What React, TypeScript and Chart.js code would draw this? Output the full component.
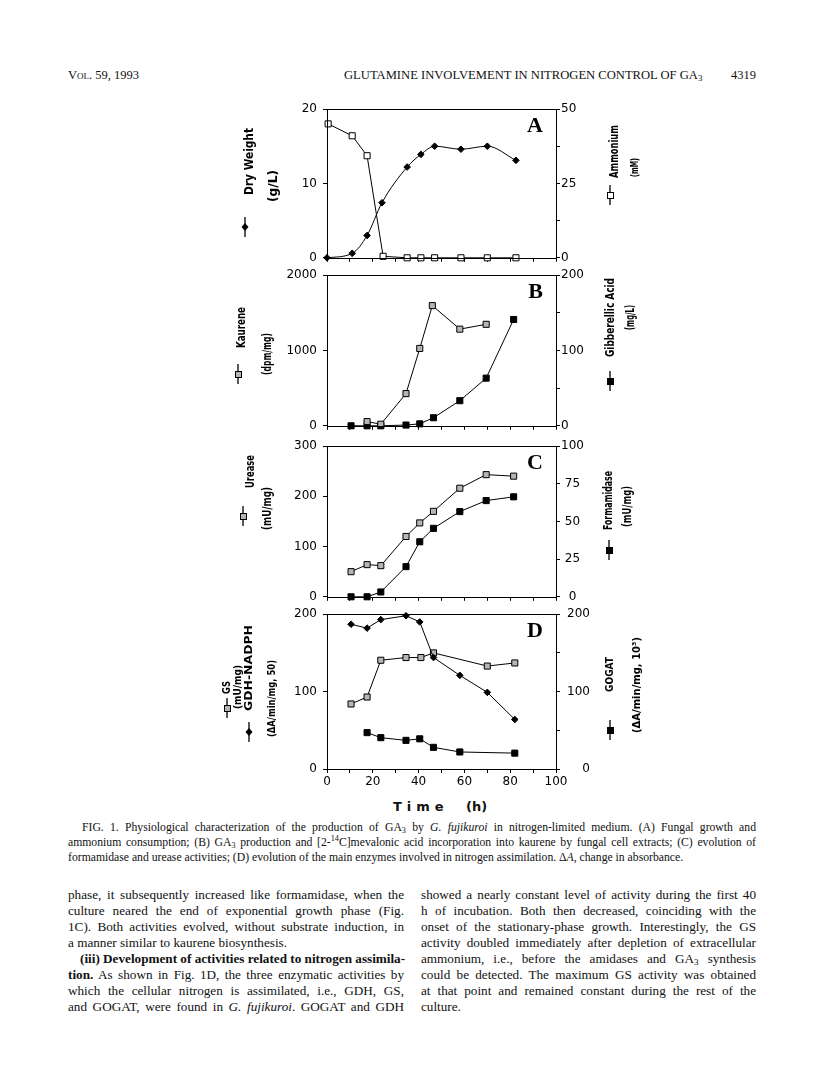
import React, { useEffect, useRef } from "react";
import { Chart, registerables } from "chart.js";
Chart.register(...registerables);

// ---------------- DATA ----------------
// Panel A
const dwTime = [0, 11, 17.5, 24, 35, 41, 47, 58.5, 70, 82.5];
const dryWeight = [0, 0.6, 3.0, 7.4, 12.2, 13.9, 15.0, 14.6, 15.0, 13.1];
const nh4Time = [0.5, 11, 17.5, 24.5, 35, 41, 47, 58.5, 70, 82.5];
const ammonium = [45, 41, 34.3, 0.5, 0, 0, 0, 0, 0, 0];
// Panel B
const kaurTime = [17.5, 23.5, 34.5, 40.5, 46, 58, 69.5];
const kaurene = [56, 21, 427, 1026, 1594, 1282, 1346];
const gaTime = [10.5, 17.5, 23.5, 34.5, 40.5, 46.5, 58, 69.5, 81.5];
const gibberellic = [0, 0, 0, 1, 2.6, 10.7, 33.3, 63.2, 141];
// Panel C
const ureTime = [10.5, 17.5, 23.5, 34.5, 40.5, 46.5, 58, 69.5, 81.5];
const urease = [50, 64, 62, 120, 147, 170, 216, 243, 240];
const formTime = [10.5, 17.5, 23.5, 34.5, 40.5, 46.5, 58, 69.5, 81.5];
const formamidase = [0, 0, 3.2, 20, 36.5, 45.4, 56.5, 63.8, 66.3];
// Panel D
const gsTime = [10.5, 17.5, 23.5, 34.5, 41, 46.5, 70, 82];
const gs = [84, 93, 140.5, 144, 144, 150, 133, 137];
const gdhTime = [10.5, 17.5, 23.5, 34.5, 40.5, 46.5, 58, 70, 82];
const gdh = [187, 182, 193, 198, 190, 144, 121, 99, 64];
const gogatTime = [17.5, 23.5, 34.5, 40.5, 46.5, 58, 82];
const gogat = [47, 40.5, 37, 39, 28, 22, 20.5];

// tick settings: [min, max, step]
const xTicks = { min: 0, max: 100, step: 10, labelEvery: 20 };
const yA = { left: [0, 20, 10], right: [0, 50, 12.5] };
const yB = { left: [0, 2000, 1000], right: [0, 200, 50] };
const yC = { left: [0, 300, 100], right: [0, 100, 25] };
const yD = { left: [0, 200, 100], right: [0, 200, 50] };

// ---------------- LAYOUT ----------------
const CANVAS_LEFT = 170;
const CANVAS_W = 520;
const LEFT_W = 157;
const RIGHT_W = 134;
const PAD_TOP = 14;
const titleFont = (px: number) => `bold ${px}px "DejaVu Sans Condensed", "DejaVu Sans", sans-serif`;
const TICK_FONT = { family: '"DejaVu Sans", sans-serif', size: 12 };

type Sym = "diamond" | "open" | "gray" | "filled";

const pts = (xs: number[], ys: number[]) => xs.map((x, i) => ({ x, y: ys[i] }));

const series = (xs: number[], ys: number[], axis: string, kind: Sym, smooth = false) => ({
  data: pts(xs, ys),
  yAxisID: axis,
  showLine: true,
  borderColor: "#000",
  borderWidth: 1,
  pointStyle: kind === "diamond" ? "rectRot" : "rect",
  pointRadius: kind === "diamond" ? 3.3 : 4.3,
  pointBackgroundColor: kind === "open" ? "#fff" : kind === "gray" ? "#b5b5b5" : "#000",
  pointBorderColor: "#000",
  pointBorderWidth: 1,
  tension: smooth ? 0.35 : 0,
  cubicInterpolationMode: smooth ? "monotone" : "default",
  clip: false,
});

function drawSym(ctx: CanvasRenderingContext2D, kind: Sym, x: number, y: number) {
  ctx.save();
  ctx.strokeStyle = "#000";
  ctx.lineWidth = 1.3;
  ctx.beginPath();
  ctx.moveTo(x, y - 10);
  ctx.lineTo(x, y + 10);
  ctx.stroke();
  ctx.lineWidth = 1;
  if (kind === "diamond") {
    ctx.fillStyle = "#000";
    ctx.beginPath();
    ctx.moveTo(x, y - 4);
    ctx.lineTo(x + 3.5, y);
    ctx.lineTo(x, y + 4);
    ctx.lineTo(x - 3.5, y);
    ctx.closePath();
    ctx.fill();
  } else {
    ctx.fillStyle = kind === "open" ? "#fff" : kind === "gray" ? "#b5b5b5" : "#000";
    ctx.fillRect(x - 3, y - 3, 6, 6);
    ctx.strokeRect(x - 3 + 0.5, y - 3 + 0.5, 6, 6);
  }
  ctx.restore();
}

interface TitleLine { text: string; x: number; y0: number; y1: number; size?: number; }
interface SymSpec { kind: Sym; x: number; y: number; }
interface PanelSpec {
  top: number; height: number; xh: number; letter: string; showX: boolean;
  datasets: any[];
  left: number[]; right: number[];
  leftLabel: (v: number) => string; rightLabel: (v: number) => string;
  rightAlign: "near" | "center"; rightPad: number;
  titles: TitleLine[]; syms: SymSpec[];
}

const every = (n: number) => (v: number) => (Math.abs(v % n) < 1e-9 ? String(v) : "");

const panels: PanelSpec[] = [
  {
    top: 95, height: 176, xh: 8, letter: "A", showX: false,
    datasets: [
      series(dwTime, dryWeight, "yL", "diamond", true),
      series(nh4Time, ammonium, "yR", "open"),
    ],
    left: yA.left, right: yA.right,
    leftLabel: every(10), rightLabel: every(25), rightAlign: "near", rightPad: 1,
    titles: [
      { text: "Dry Weight", x: 250, y0: 195, y1: 128 },
      { text: "(g/L)", x: 274, y0: 202, y1: 170 },
      { text: "Ammonium", x: 615, y0: 178, y1: 125 },
      { text: "(mM)", x: 635, y0: 177, y1: 158, size: 10.5 },
    ],
    syms: [
      { kind: "diamond", x: 245, y: 227 },
      { kind: "open", x: 610, y: 195 },
    ],
  },
  {
    top: 261, height: 178, xh: 8, letter: "B", showX: false,
    datasets: [
      series(kaurTime, kaurene, "yL", "gray"),
      series(gaTime, gibberellic, "yR", "filled"),
    ],
    left: yB.left, right: yB.right,
    leftLabel: every(1000), rightLabel: every(100), rightAlign: "near", rightPad: 1,
    titles: [
      { text: "Kaurene", x: 242, y0: 348, y1: 307 },
      { text: "(dpm/mg)", x: 268, y0: 375, y1: 333 },
      { text: "Gibberellic Acid", x: 611, y0: 357, y1: 278 },
      { text: "(mg/L)", x: 631, y0: 330, y1: 305 },
    ],
    syms: [
      { kind: "gray", x: 238, y: 374 },
      { kind: "filled", x: 610, y: 381 },
    ],
  },
  {
    top: 432, height: 178, xh: 8, letter: "C", showX: false,
    datasets: [
      series(ureTime, urease, "yL", "gray"),
      series(formTime, formamidase, "yR", "filled"),
    ],
    left: yC.left, right: yC.right,
    leftLabel: every(100), rightLabel: every(25), rightAlign: "center", rightPad: 1,
    titles: [
      { text: "Urease", x: 251, y0: 488, y1: 455 },
      { text: "(mU/mg)", x: 268, y0: 530, y1: 487 },
      { text: "Formamidase", x: 609, y0: 530, y1: 471 },
      { text: "(mU/mg)", x: 628, y0: 527, y1: 486 },
    ],
    syms: [
      { kind: "gray", x: 243, y: 516 },
      { kind: "filled", x: 609, y: 550 },
    ],
  },
  {
    top: 600, height: 193, xh: 24, letter: "D", showX: true,
    datasets: [
      series(gdhTime, gdh, "yL", "diamond"),
      series(gsTime, gs, "yL", "gray"),
      series(gogatTime, gogat, "yR", "filled"),
    ],
    left: yD.left, right: yD.right,
    leftLabel: every(100),
    rightLabel: (v: number) => (v % 100 === 0 ? String(v).padStart(3, "\u2007") : ""),
    rightAlign: "near", rightPad: 7,
    titles: [
      { text: "GS", x: 227, y0: 694, y1: 681, size: 10 },
      { text: "(mU/mg)", x: 238, y0: 709, y1: 665, size: 10 },
      { text: "GDH-NADPH", x: 249, y0: 711, y1: 625, size: 10.5 },
      { text: "(\u0394A/min/mg, 50)", x: 272, y0: 737, y1: 660, size: 10.5 },
      { text: "GOGAT", x: 610, y0: 692, y1: 657, size: 10.5 },
      { text: "(\u0394A/min/mg, 10\u00B3)", x: 637, y0: 733, y1: 637, size: 10.5 },
    ],
    syms: [
      { kind: "gray", x: 227, y: 708 },
      { kind: "diamond", x: 249, y: 732 },
      { kind: "filled", x: 610, y: 730 },
    ],
  },
];

function Panel({ spec }: { spec: PanelSpec }) {
  const ref = useRef<HTMLCanvasElement>(null);
  useEffect(() => {
    const canvas = ref.current!;
    const deco = {
      id: "deco",
      afterDraw(chart: any) {
        const ctx: CanvasRenderingContext2D = chart.ctx;
        const a = chart.chartArea;
        ctx.save();
        ctx.strokeStyle = "#000";
        ctx.lineWidth = 1;
        ctx.strokeRect(Math.round(a.left) + 0.5, Math.round(a.top) + 0.5,
          Math.round(a.right - a.left), Math.round(a.bottom - a.top));
        ctx.fillStyle = "#000";
        ctx.font = 'bold 22px "Liberation Serif", "Times New Roman", serif';
        ctx.textAlign = "right";
        ctx.textBaseline = "alphabetic";
        ctx.fillText(spec.letter, a.right - 13, a.top + 23);
        ctx.textAlign = "left";
        ctx.textBaseline = "middle";
        for (const t of spec.titles) {
          ctx.font = titleFont(t.size || 12);
          const w = ctx.measureText(t.text).width;
          const L = t.y0 - t.y1;
          ctx.save();
          ctx.translate(t.x - CANVAS_LEFT, t.y0 - spec.top);
          ctx.rotate(-Math.PI / 2);
          ctx.scale(L / w, 1);
          ctx.fillText(t.text, 0, 0);
          ctx.restore();
        }
        for (const s of spec.syms) drawSym(ctx, s.kind, s.x - CANVAS_LEFT, s.y - spec.top);
        ctx.restore();
      },
    };
    const gridOpts = { drawOnChartArea: false, drawTicks: true, tickLength: 4, color: "#000", tickWidth: 1 };
    const chart = new Chart(canvas, {
      type: "scatter",
      data: { datasets: spec.datasets as any },
      options: {
        animation: false,
        responsive: false,
        maintainAspectRatio: false,
        devicePixelRatio: 1,
        layout: { padding: { top: PAD_TOP, left: 0, right: 0, bottom: 0 } },
        plugins: { legend: { display: false }, tooltip: { enabled: false } },
        events: [],
        scales: {
          x: {
            type: "linear",
            min: xTicks.min, max: xTicks.max,
            ticks: {
              stepSize: xTicks.step, autoSkip: false, maxRotation: 0,
              display: spec.showX, padding: 2, color: "#000", font: TICK_FONT,
              callback: (v: any) => every(xTicks.labelEvery)(Number(v)),
            },
            grid: gridOpts,
            border: { display: false },
            afterFit: (s: any) => { s.height = spec.xh; },
          },
          yL: {
            type: "linear", position: "left",
            min: spec.left[0], max: spec.left[1],
            ticks: {
              stepSize: spec.left[2], autoSkip: false, padding: 6, color: "#000", font: TICK_FONT,
              callback: (v: any) => spec.leftLabel(Number(v)),
            },
            grid: gridOpts,
            border: { display: false },
            afterFit: (s: any) => { s.width = LEFT_W; },
          },
          yR: {
            type: "linear", position: "right",
            min: spec.right[0], max: spec.right[1],
            ticks: {
              stepSize: spec.right[2], autoSkip: false, padding: spec.rightPad, color: "#000", font: TICK_FONT,
              crossAlign: spec.rightAlign,
              callback: (v: any) => spec.rightLabel(Number(v)),
            },
            grid: gridOpts,
            border: { display: false },
            afterFit: (s: any) => { s.width = RIGHT_W; },
          },
        },
      } as any,
      plugins: [deco],
    });
    return () => chart.destroy();
  }, [spec]);
  return (
    <canvas
      ref={ref}
      width={CANVAS_W}
      height={spec.height}
      style={{ position: "absolute", left: CANVAS_LEFT, top: spec.top, width: CANVAS_W, height: spec.height }}
    />
  );
}

const serif = '"Liberation Serif", "Times New Roman", serif';

function Line({ children, left, top, width, last, indent, size, lh }: any) {
  return (
    <div
      style={{
        position: "absolute", left: left + (indent || 0), top, width: width - (indent || 0),
        fontFamily: serif, fontSize: size, lineHeight: `${lh || 16}px`, whiteSpace: "nowrap",
        textAlign: "justify", textAlignLast: last ? "left" : "justify", color: "#111",
      } as any}
    >
      {children}
    </div>
  );
}

const TXT_L = 68;
const TXT_R = 756;
const COL_W = 336;
const COL2_L = 421;
const BODY = 13.2;
const CAP = 11.7;

export default function App() {
  const capW = TXT_R - TXT_L;
  const capTop = [820, 835, 850];
  const bodyTop = [887, 903, 919, 935, 951, 967, 983, 999];
  const sub3 = <sub style={{ fontSize: "0.7em", verticalAlign: "-0.25em", lineHeight: 0 }}>3</sub>;
  return (
    <div style={{ position: "absolute", left: 0, top: 0, width: 816, height: 1078, background: "#fff", color: "#111" }}>
      {/* header */}
      <div style={{ position: "absolute", left: TXT_L, top: 68, fontFamily: serif, fontSize: 12.5, fontVariant: "small-caps" }}>
        Vol. 59, 1993
      </div>
      <div style={{ position: "absolute", left: 344, top: 68, fontFamily: serif, fontSize: 12.6, whiteSpace: "nowrap" }}>
        GLUTAMINE INVOLVEMENT IN NITROGEN CONTROL OF GA{sub3}
      </div>
      <div style={{ position: "absolute", right: 816 - TXT_R, top: 68, fontFamily: serif, fontSize: 12.5 }}>
        4319
      </div>

      {panels.map((p) => <Panel key={p.letter} spec={p} />)}

      {/* x-axis title */}
      <div style={{ position: "absolute", left: 393, top: 799, fontFamily: '"DejaVu Sans", sans-serif', fontWeight: "bold", fontSize: 13, letterSpacing: 5, whiteSpace: "pre" }}>
        Time
      </div>
      <div style={{ position: "absolute", left: 466, top: 799, fontFamily: '"DejaVu Sans", sans-serif', fontWeight: "bold", fontSize: 13, whiteSpace: "pre" }}>
        (h)
      </div>

      {/* caption */}
      <Line left={TXT_L} top={capTop[0]} width={capW} indent={14} size={CAP} lh={15}>
        FIG. 1. Physiological characterization of the production of GA{sub3} by <i>G. fujikuroi</i> in nitrogen-limited medium. (A) Fungal growth and
      </Line>
      <Line left={TXT_L} top={capTop[1]} width={capW} size={CAP} lh={15}>
        ammonium consumption; (B) GA{sub3} production and [2-<sup style={{ fontSize: "0.7em", lineHeight: 0 }}>14</sup>C]mevalonic acid incorporation into kaurene by fungal cell extracts; (C) evolution of
      </Line>
      <Line left={TXT_L} top={capTop[2]} width={capW} size={CAP} lh={15} last>
        formamidase and urease activities; (D) evolution of the main enzymes involved in nitrogen assimilation. Δ<i>A</i>, change in absorbance.
      </Line>

      {/* body left column */}
      <Line left={TXT_L} top={bodyTop[0]} width={COL_W} size={BODY}>phase, it subsequently increased like formamidase, when the</Line>
      <Line left={TXT_L} top={bodyTop[1]} width={COL_W} size={BODY}>culture neared the end of exponential growth phase (Fig.</Line>
      <Line left={TXT_L} top={bodyTop[2]} width={COL_W} size={BODY}>1C). Both activities evolved, without substrate induction, in</Line>
      <Line left={TXT_L} top={bodyTop[3]} width={COL_W} size={BODY} last>a manner similar to kaurene biosynthesis.</Line>
      <Line left={TXT_L} top={bodyTop[4]} width={COL_W} size={BODY} indent={12}><b>(iii) Development of activities related to nitrogen assimila-</b></Line>
      <Line left={TXT_L} top={bodyTop[5]} width={COL_W} size={BODY}><b>tion.</b> As shown in Fig. 1D, the three enzymatic activities by</Line>
      <Line left={TXT_L} top={bodyTop[6]} width={COL_W} size={BODY}>which the cellular nitrogen is assimilated, i.e., GDH, GS,</Line>
      <Line left={TXT_L} top={bodyTop[7]} width={COL_W} size={BODY}>and GOGAT, were found in <i>G. fujikuroi</i>. GOGAT and GDH</Line>

      {/* body right column */}
      <Line left={COL2_L} top={bodyTop[0]} width={TXT_R - COL2_L} size={BODY}>showed a nearly constant level of activity during the first 40</Line>
      <Line left={COL2_L} top={bodyTop[1]} width={TXT_R - COL2_L} size={BODY}>h of incubation. Both then decreased, coinciding with the</Line>
      <Line left={COL2_L} top={bodyTop[2]} width={TXT_R - COL2_L} size={BODY}>onset of the stationary-phase growth. Interestingly, the GS</Line>
      <Line left={COL2_L} top={bodyTop[3]} width={TXT_R - COL2_L} size={BODY}>activity doubled immediately after depletion of extracellular</Line>
      <Line left={COL2_L} top={bodyTop[4]} width={TXT_R - COL2_L} size={BODY}>ammonium, i.e., before the amidases and GA{sub3} synthesis</Line>
      <Line left={COL2_L} top={bodyTop[5]} width={TXT_R - COL2_L} size={BODY}>could be detected. The maximum GS activity was obtained</Line>
      <Line left={COL2_L} top={bodyTop[6]} width={TXT_R - COL2_L} size={BODY}>at that point and remained constant during the rest of the</Line>
      <Line left={COL2_L} top={bodyTop[7]} width={TXT_R - COL2_L} size={BODY} last>culture.</Line>
    </div>
  );
}
